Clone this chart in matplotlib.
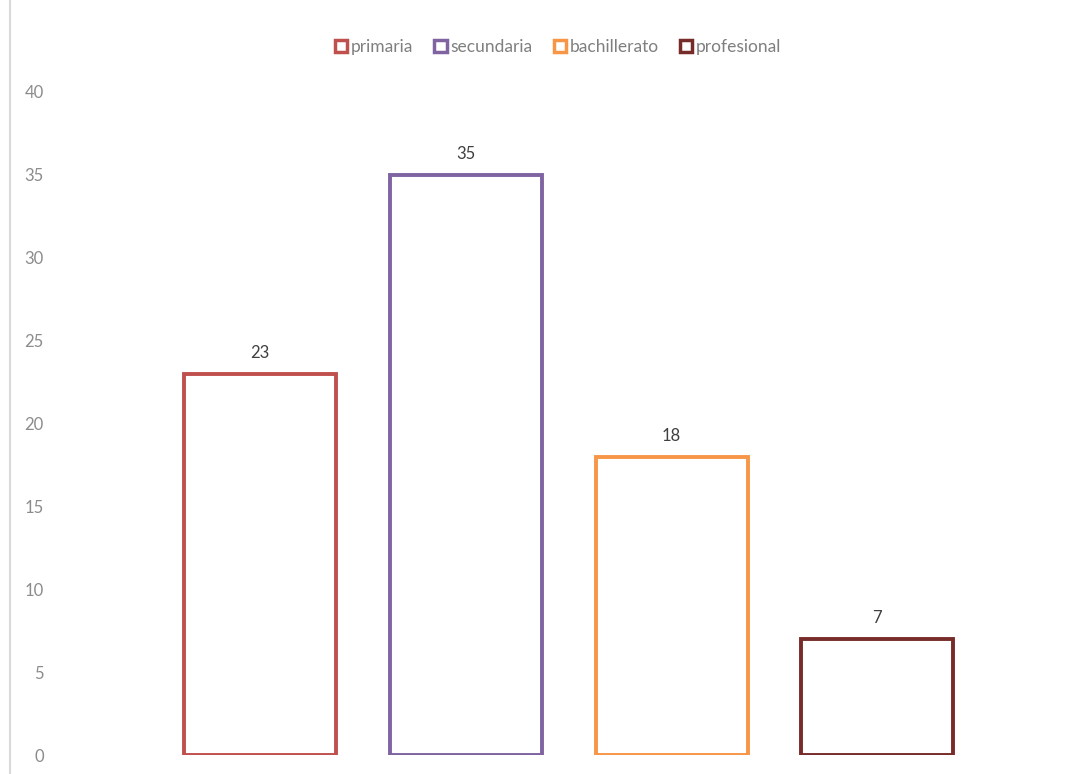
import matplotlib.pyplot as plt
from matplotlib.patches import Patch
from matplotlib.lines import Line2D

# niveles de estudio y cantidad de personas
categorias = ["primaria", "secundaria", "bachillerato", "profesional"]
valores = [23, 35, 18, 7]
colores = ["#C0504D", "#8064A2", "#F79646", "#772C2A"]

plt.rcParams['font.family'] = ['Lato', 'DejaVu Sans']

W, H = 1091, 774
fig = plt.figure(figsize=(W / 100, H / 100), dpi=100)

# area de trazado en pixeles (izq, der, arriba, abajo)
left, right, top, bottom = 55, 1085, 92, 755
ax = fig.add_axes([left / W, 1 - bottom / H, (right - left) / W, (bottom - top) / H])

pos = list(range(len(categorias)))
ax.bar(pos, valores, width=0.74, facecolor="white", edgecolor=colores, linewidth=2.8)

for x, v in zip(pos, valores):
    ax.annotate(str(v), (x, v), xytext=(0, 9), textcoords="offset points",
                ha="center", va="bottom", fontsize=12, color="#404040")

ax.set_xlim(-0.998, 4.01)
ax.set_ylim(0, 40)
ax.set_yticks(range(0, 41, 5))
ax.set_xticks([])
ax.tick_params(axis="y", length=0, labelsize=12, labelcolor="#8C8C8C", pad=8)
for s in ax.spines.values():
    s.set_visible(False)

# borde izquierdo del marco
fig.add_artist(Line2D([10 / W, 10 / W], [0, 1], color="#D9D9D9", linewidth=1.5))

handles = [Patch(facecolor="white", edgecolor=c, linewidth=2.5, label=n)
           for n, c in zip(categorias, colores)]
fig.legend(handles=handles, loc="center", bbox_to_anchor=(558 / W, 1 - 47 / H),
           ncol=4, frameon=False, fontsize=12.5, labelcolor="#7F7F7F",
           handlelength=0.7, handleheight=0.7, handletextpad=0.2, columnspacing=1.25)

fig.savefig("out.png", dpi=100)
